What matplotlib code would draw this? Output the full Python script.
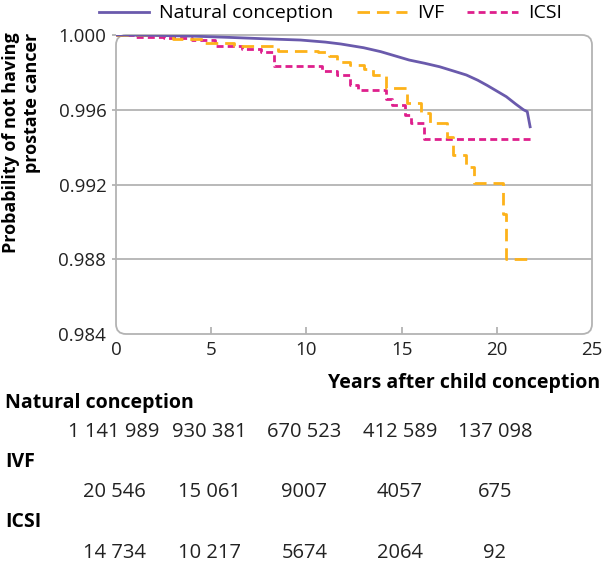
import matplotlib
matplotlib.use("Agg")
import matplotlib.pyplot as plt
from matplotlib.patches import FancyBboxPatch
import numpy as np

plt.rcParams['font.family'] = ['Open Sans', 'DejaVu Sans']

# Kaplan-Meier style curves (years, probability)
nat_t = [0, 2, 4, 6, 8, 9.7, 11, 11.8, 13, 13.9, 15.4, 16.2, 17.0, 17.8, 18.4, 19.0,
         19.5, 20.2, 20.5, 21.0, 21.4, 21.6, 21.75]
nat_v = [1.0, 0.99998, 0.99994, 0.99987, 0.99979, 0.99973, 0.99962, 0.99952, 0.99932,
         0.99911, 0.99866, 0.99849, 0.9983, 0.99805, 0.99786, 0.99758, 0.9973, 0.99688,
         0.9967, 0.9963, 0.996, 0.9959, 0.99509]

ivf_t = [0, 3.0, 4.7, 6.2, 8.5, 10.6, 11.2, 11.6, 12.3, 13.0, 13.5, 14.2, 15.3, 16.0,
         16.5, 17.4, 17.7, 18.4, 18.8, 20.3, 20.5, 21.8]
ivf_v = [1.0, 0.99977, 0.99955, 0.99941, 0.99916, 0.9991, 0.9989, 0.99853, 0.9984,
         0.9982, 0.99786, 0.99716, 0.99636, 0.99583, 0.9953, 0.99454, 0.99358, 0.99294,
         0.99208, 0.9904, 0.9880, 0.9880]

icsi_t = [0, 1.0, 2.5, 4.0, 5.2, 6.6, 7.6, 8.3, 10.8, 11.6, 12.3, 12.7, 14.2, 14.5,
          15.2, 15.5, 16.2, 21.8]
icsi_v = [1.0, 0.99988, 0.99982, 0.99973, 0.9994, 0.99925, 0.9991, 0.99834, 0.9981,
          0.99786, 0.99733, 0.99706, 0.9966, 0.99626, 0.9957, 0.99529, 0.99444, 0.99444]

# numbers at risk
risk_years = [0, 5, 10, 15, 20]
risk_groups = ['Natural conception', 'IVF', 'ICSI']
risk_nat = ['1 141 989', '930 381', '670 523', '412 589', '137 098']
risk_ivf = ['20 546', '15 061', '9007', '4057', '675']
risk_icsi = ['14 734', '10 217', '5674', '2064', '92']

purple = '#6a5aac'
orange = '#fdb21a'
magenta = '#de1f8c'
grey = '#b3b3b3'
txt = '#222222'

fig = plt.figure(figsize=(6.04, 5.70), dpi=100)
ax = fig.add_axes([116 / 604, 236 / 570, 476 / 604, 299 / 570])
ax.patch.set_visible(False)

ax.plot(nat_t, nat_v, color=purple, lw=2.0, label='Natural conception', zorder=5)
ax.step(ivf_t, ivf_v, where='post', color=orange, lw=2.0, ls=(0, (4.5, 2.5)), label='IVF', zorder=4)
ax.step(icsi_t, icsi_v, where='post', color=magenta, lw=2.0, ls=(0, (2.5, 1.5)), label='ICSI', zorder=3)

ax.set_xlim(0, 25)
ax.set_ylim(0.984, 1.000)
ax.set_xticks([0, 5, 10, 15, 20, 25])
ax.set_yticks([0.984, 0.988, 0.992, 0.996, 1.000])
ax.set_yticklabels(['0.984', '0.988', '0.992', '0.996', '1.000'])
for s in ax.spines.values():
    s.set_visible(False)
for y in [0.988, 0.992, 0.996]:
    ax.axhline(y, color=grey, lw=1.3, zorder=1)
ax.tick_params(axis='y', direction='out', length=3, width=1.3, color=grey,
               labelsize=13.5, pad=4, labelcolor=txt)
ax.tick_params(axis='x', direction='in', length=5, width=1.3, color=grey,
               labelsize=13.5, pad=5, labelcolor=txt)
ticks = ax.xaxis.get_major_ticks()
ticks[0].tick1line.set_visible(False)
ticks[-1].tick1line.set_visible(False)
ticks = ax.yaxis.get_major_ticks()
ticks[0].tick1line.set_visible(False)

frame = FancyBboxPatch((1.16, 2.36), 4.76, 2.99, boxstyle='round,pad=0,rounding_size=0.1',
                       transform=fig.dpi_scale_trans, fill=False, ec=grey, lw=1.3, zorder=-1)
fig.add_artist(frame)

ax.legend(loc='lower center', bbox_to_anchor=(0.45, 1.0), ncol=3, frameon=False,
          fontsize=14, handlelength=2.6, handletextpad=0.5, columnspacing=1.2,
          borderaxespad=0.25)

fig.text(0.035, 0.943, 'Probability of not having\nprostate cancer', rotation=90,
         ha='center', va='top', multialignment='right', fontsize=13, fontweight='bold')
fig.text(0.993, 0.328, 'Years after child conception', ha='right', va='center',
         fontsize=14, fontweight='bold')

label_y = [0.293, 0.189, 0.084]
num_y = [0.242, 0.137, 0.030]
trans = matplotlib.transforms.blended_transform_factory(ax.transData, fig.transFigure)
for name, ly, ny, vals in zip(risk_groups, label_y, num_y, [risk_nat, risk_ivf, risk_icsi]):
    fig.text(0.008, ly, name, ha='left', va='center', fontsize=14, fontweight='bold')
    for yr, v in zip(risk_years, vals):
        ax.text(yr - 0.1, ny, v, transform=trans, ha='center', va='center', fontsize=14.5,
                color=txt, clip_on=False)

fig.savefig('out.png', dpi=100)
